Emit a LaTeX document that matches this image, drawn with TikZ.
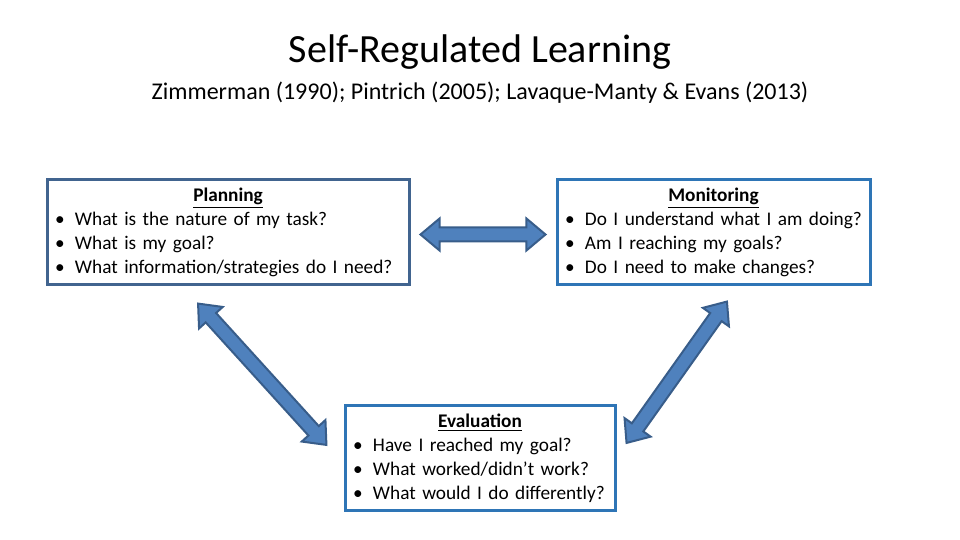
\documentclass[tikz,border=0pt]{standalone}
\usepackage{fontspec}
\setmainfont{Carlito}
\usetikzlibrary{shapes.arrows, calc, positioning}
\definecolor{arrowfill}{HTML}{4F81BD}
\definecolor{arrowline}{HTML}{385D8A}
\definecolor{planline}{HTML}{41648F}
\definecolor{stepline}{HTML}{2E75B6}
\tikzstyle{box} = [rectangle, line width=1.5pt, fill=white, inner xsep=4pt, inner ysep=0pt, minimum height=52.5pt, font=\fontsize{9.65}{12}\selectfont]
\tikzstyle{blockarrow} = [double arrow, draw=arrowline, fill=arrowfill, line width=1pt, inner sep=3pt, double arrow head extend=4.5pt, double arrow tip angle=80]
\newcommand{\bul}{\makebox[10pt][l]{\textbullet}}
\newcommand{\linkarrow}[2]{\path let \p1=($(#2)-(#1)$), \n1={veclen(\x1,\y1)}, \n2={atan2(\y1,\x1)} in node[blockarrow, minimum height=\n1, rotate=\n2] at ($(#1)!0.5!(#2)$) {};}
\begin{document}
\begin{tikzpicture}[x=0.5pt, y=-0.5pt]
	\useasboundingbox (0,0) rectangle (960,540);
	\node (title) at (480,52) {\fontsize{20}{24}\selectfont Self-Regulated Learning};
	\node (refs) at (480,93) {\fontsize{12}{14}\selectfont Zimmerman (1990); Pintrich (2005); Lavaque-Manty \& Evans (2013)};
	\node (plan) [box, draw=planline, minimum width=181pt, text width=173pt] at (228,232.5) {{\centering\textbf{\underline{Planning}}\par}\raggedright
		\bul What is the nature of my task?\\
		\bul What is my goal?\\
		\bul What information/strategies do I need?};
	\node (mon) [box, draw=stepline, minimum width=156.5pt, text width=148.5pt, right=72.5pt of plan] {{\centering\textbf{\underline{Monitoring}}\par}\raggedright
		\bul Do I understand what I am doing?\\
		\bul Am I reaching my goals?\\
		\bul Do I need to make changes?};
	\node (eval) [box, draw=stepline, minimum width=135pt, text width=127pt] at (480,458) {{\centering\textbf{\underline{Evaluation}}\par}\raggedright
		\bul Have I reached my goal?\\
		\bul What worked/didn’t work?\\
		\bul What would I do differently?};
	% block arrows between the stages
	\linkarrow{$(plan.east)+(10,2)$}{$(mon.west)+(-10,2)$}
	\linkarrow{$(plan.south)+(-30,17)$}{$(eval.west)+(-17,-13)$}
	\linkarrow{$(mon.south)+(13.5,15)$}{$(eval.east)+(10,-15)$}
\end{tikzpicture}
\end{document}
